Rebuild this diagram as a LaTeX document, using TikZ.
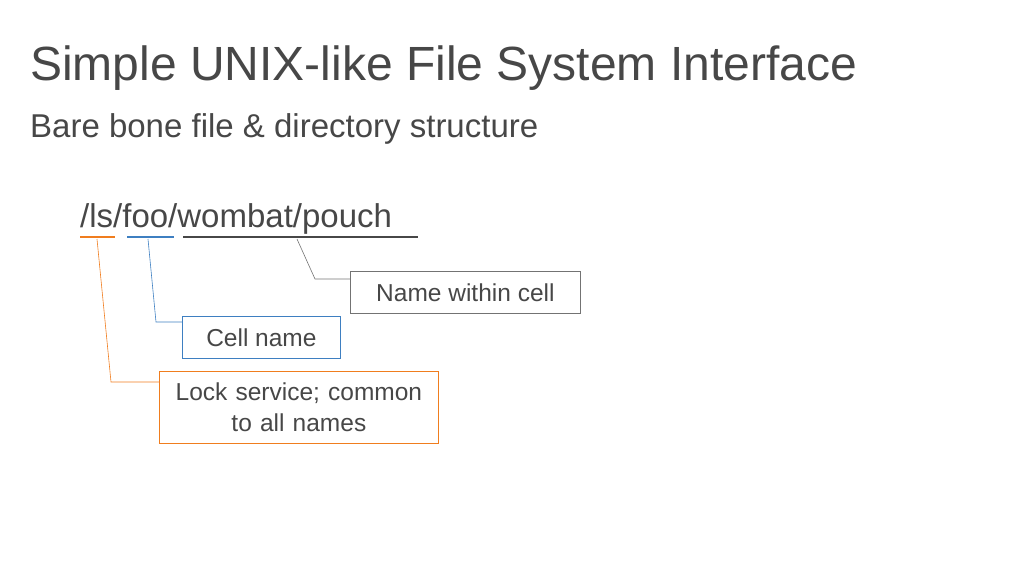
\documentclass[tikz,border=0pt]{standalone}
\usepackage{fontspec}
\setmainfont{Liberation Sans}
\begin{document}
\begin{tikzpicture}[x=1pt,y=-1pt,
  txt/.style={text=black!72,inner sep=0,anchor=base west},
  lbl/.style={draw,line width=0.8pt,text=black!72,font=\fontsize{24.5}{31}\selectfont,align=center,inner sep=0,anchor=north west},
  lead/.style={line width=0.6pt}]
\useasboundingbox (0,0) rectangle (1024,576);
\definecolor{orng}{HTML}{F07D1E}
\definecolor{blu}{HTML}{3E7FC1}
\node[txt,font=\fontsize{48}{54}\selectfont] (title) at (30,80) {Simple UNIX-like File System Interface};
\node[txt,font=\fontsize{33}{38}\selectfont] (sub) at (30,137) {Bare bone file \& directory structure};
\node[txt,font=\fontsize{33}{38}\selectfont] (path) at (80,227) {/ls/foo/wombat/pouch};
\draw[orng,line width=2.5pt] (80,237) -- (115,237);
\draw[blu,line width=2.5pt] (127,237) -- (174,237);
\draw[black!72,line width=2.5pt] (183,237) -- (418,237);
\node[lbl,draw=black!55,minimum width=230,minimum height=42] (n1) at (350,271) {Name within cell};
\node[lbl,draw=blu,minimum width=158,minimum height=42] (n2) at (182,316) {Cell name};
\node[lbl,draw=orng,minimum width=279,minimum height=72,text width=275] (n3) at (159,371) {Lock service; common\\to all names};
\coordinate (a1) at (297,239);
\coordinate (a2) at (148,239);
\coordinate (a3) at (97,239);
\draw[lead,black!55] (a1) -- (315,279) -- (n1.west|-0,279);
\draw[lead,blu] (a2) -- (156,322) -- (n2.west|-0,322);
\draw[lead,orng] (a3) -- (111,382) -- (n3.west|-0,382);
\end{tikzpicture}
\end{document}
